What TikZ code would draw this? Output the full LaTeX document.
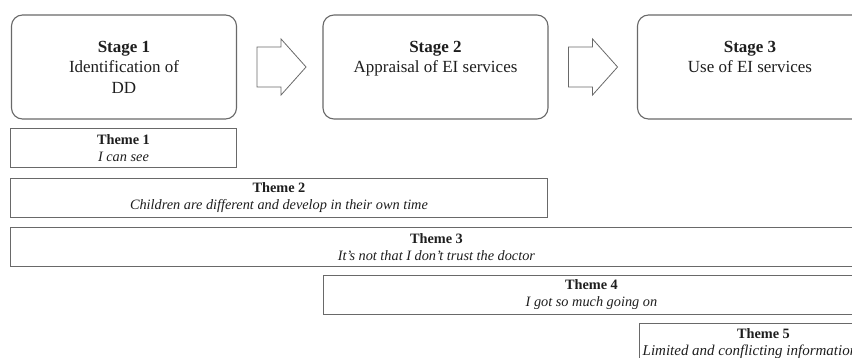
\documentclass[tikz,border=0pt]{standalone}
\usepackage{fontspec}
\setmainfont{Liberation Serif}
\usetikzlibrary{calc,positioning}
\definecolor{boxgray}{RGB}{105,105,105}
\definecolor{txt}{RGB}{30,30,30}

\tikzset{
  stagebox/.style={draw=boxgray, line width=1.1pt, rounded corners=11pt, minimum width=225pt,
    minimum height=104pt, align=center, text=txt, font=\fontsize{17}{20.5}\selectfont, inner sep=0pt},
  themebox/.style={draw=boxgray, line width=0.9pt, minimum height=39pt, align=center, text=txt,
    font=\fontsize{14.3}{17}\selectfont, inner sep=0pt},
  blockarrow/.style={draw=boxgray, line width=0.8pt, fill=white}
}

\begin{document}
\begin{tikzpicture}[x=1pt, y=-1pt]
        \useasboundingbox (0,0) rectangle (852,358);
        \clip (0,0) rectangle (852,358);

        % stages
        \node[stagebox] (stage1) at (124,67) {\textbf{Stage 1}\\Identification of\\DD};
        \node[stagebox] (stage2) at (435.5,67) {\textbf{Stage 2}\\Appraisal of EI services\\\mbox{}};
        \node[stagebox] (stage3) at (750,67) {\textbf{Stage 3}\\Use of EI services\\\mbox{}};

        % arrows between stages
        \foreach \a/\b in {stage1/stage2, stage2/stage3}{
          \draw[blockarrow] ($(\a.east)+(20,-20)$) -- ++(24,0) -- ++(0,-8) -- ++(25,28)
            -- ++(-25,28) -- ++(0,-8) -- ++(-24,0) -- cycle;
        }

        % themes
        \node[themebox, minimum width=226pt, anchor=north west] (theme1) at (10,128.5)
          {\textbf{Theme 1}\\\textit{I can see}};
        \node[themebox, minimum width=537pt, anchor=north west] (theme2) at (10,178)
          {\textbf{Theme 2}\\\textit{Children are different and develop in their own time}};
        \node[themebox, minimum width=852pt, anchor=north west] (theme3) at (10,227)
          {\textbf{Theme 3}\\\textit{It's not that I don't trust the doctor}};
        \node[themebox, minimum width=536pt, anchor=north west] (theme4) at (323,275)
          {\textbf{Theme 4}\\\textit{I got so much going on}};
        \node[themebox, minimum width=248pt, anchor=north west] (theme5) at (639,323.5)
          {\textbf{Theme 5}\\\hspace*{3pt}\fontsize{15}{17}\selectfont\textit{Limited and conflicting information}\hspace*{30pt}};
\end{tikzpicture}
\end{document}
